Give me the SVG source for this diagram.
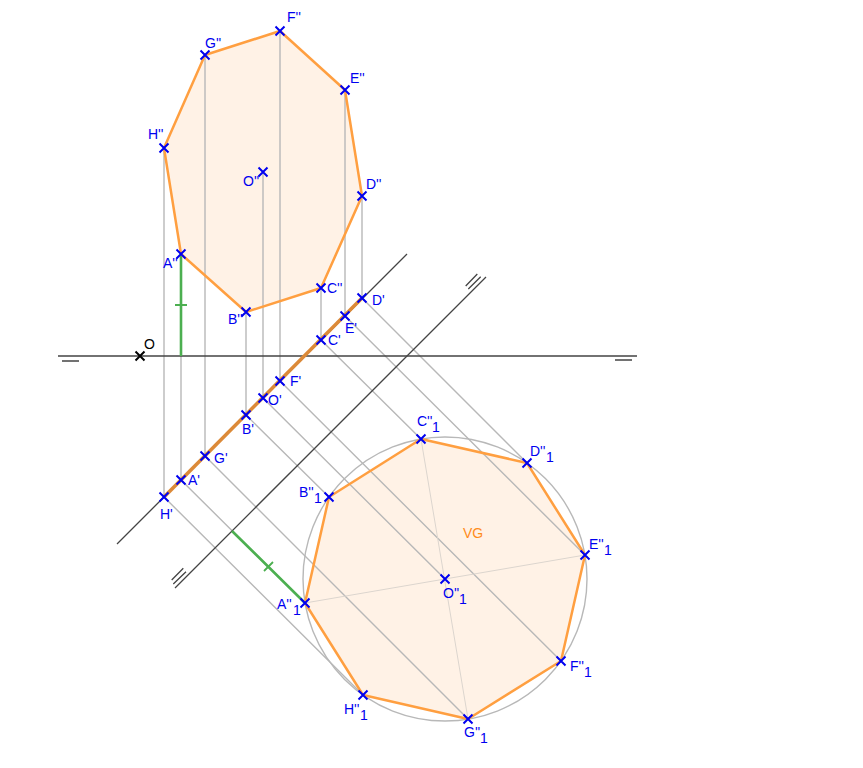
<svg xmlns="http://www.w3.org/2000/svg" width="863" height="768" viewBox="0 0 863 768">
<style>
.fill{fill:#fff2e6;stroke:none}
.edge{fill:none;stroke:#ff9f40;stroke-width:2.5;stroke-linejoin:round}
.ref{stroke:#b8b8b8;stroke-width:1.4;fill:none}
.faint{stroke:#dcd5ce;stroke-width:1;fill:none}
.axis{stroke:#444;stroke-width:1.3;fill:none}
.green{stroke:#4caf50;stroke-width:2.6;fill:none}
.greentick{stroke:#4caf50;stroke-width:1.8;fill:none}
.thick{stroke:#dc8a38;stroke-width:3.6;fill:none}
.x{stroke:#0000f0;stroke-width:2;fill:none}
.xk{stroke:#000;stroke-width:2;fill:none}
text{font-family:"Liberation Sans",Arial,sans-serif;font-size:14px;fill:#0000f0}
.k{fill:#000}
.vg{fill:#ff8c1a}
</style>
<defs><path id="m" d="M-4.500-4.500L4.500 4.500M-4.500 4.500L4.500-4.500" class="x"/></defs>
<g id="faces">
<polygon class="fill" points="181,254 246,312 321,288 362,196 345,90 280,31 205,55 164,148"/>
<polygon class="fill" points="305,603 363,695 468,719 561,661 585,555 527,463 421,439 329,497"/>
</g>
<g id="connectors">
<g class="ref">
<path d="M164,148V497M181,254V480M205,55V456M246,312V415M263,172V398M280,31V381M321,288V340M345,90V316M362,196V298"/>
<path d="M164,497L363,695M181,480L305,603M205,456L468,719M246,415L329,497M263,398L445,579M280,381L561,661M321,340L421,439M345,316L585,555M362,298L527,463"/>
<circle cx="445" cy="579" r="142"/>
</g>
<g class="faint"><path d="M305,603L585,555M421,439L468,719"/></g>
<g class="axis">
<path d="M58,356H637M62,361H79M615,360H632"/>
<path d="M117,544L407,254"/>
<path d="M175,588L486,277M171.700,580L183.300,568.300M173.300,584L186,571.700M465.700,286L477.300,274M468.300,289L480.700,276.700"/>
</g>
<path class="thick" d="M164,497L362,298"/>
<path class="green" d="M181,254V356M232,531L305,603"/>
<path class="greentick" d="M175,305H187M264,571L273,562"/>
<polygon class="edge" points="181,254 246,312 321,288 362,196 345,90 280,31 205,55 164,148"/>
<polygon class="edge" points="305,603 363,695 468,719 561,661 585,555 527,463 421,439 329,497"/>
</g>
<g id="O"><path class="xk" d="M135.500 351.500L144.500 360.500M135.500 360.500L144.500 351.500"/><text class="k" x="144" y="349">O</text></g>
<g id="Ad"><use href="#m" x="181" y="254"/><text x="163" y="268">A''</text></g>
<g id="Bd"><use href="#m" x="246" y="312"/><text x="228" y="324">B''</text></g>
<g id="Cd"><use href="#m" x="321" y="288"/><text x="327" y="293">C''</text></g>
<g id="Dd"><use href="#m" x="362" y="196"/><text x="366" y="189">D''</text></g>
<g id="Ed"><use href="#m" x="345" y="90"/><text x="350" y="83">E''</text></g>
<g id="Fd"><use href="#m" x="280" y="31"/><text x="287" y="22">F''</text></g>
<g id="Gd"><use href="#m" x="205" y="55"/><text x="205" y="48">G''</text></g>
<g id="Hd"><use href="#m" x="164" y="148"/><text x="148" y="139">H''</text></g>
<g id="Od"><use href="#m" x="263" y="172"/><text x="243" y="186">O''</text></g>
<g id="Ap"><use href="#m" x="181" y="480"/><text x="188" y="485">A'</text></g>
<g id="Bp"><use href="#m" x="246" y="415"/><text x="242" y="434">B'</text></g>
<g id="Cp"><use href="#m" x="321" y="340"/><text x="328" y="345">C'</text></g>
<g id="Dp"><use href="#m" x="362" y="298"/><text x="372" y="305">D'</text></g>
<g id="Ep"><use href="#m" x="345" y="316"/><text x="345" y="333">E'</text></g>
<g id="Fp"><use href="#m" x="280" y="381"/><text x="290" y="386">F'</text></g>
<g id="Gp"><use href="#m" x="205" y="456"/><text x="214" y="463">G'</text></g>
<g id="Hp"><use href="#m" x="164" y="497"/><text x="160" y="519">H'</text></g>
<g id="Op"><use href="#m" x="263" y="398"/><text x="268" y="405">O'</text></g>
<g id="A1"><use href="#m" x="305" y="603"/><text x="277" y="609">A''</text><text x="293" y="615">1</text></g>
<g id="B1"><use href="#m" x="329" y="497"/><text x="299" y="497">B''</text><text x="314" y="503">1</text></g>
<g id="C1"><use href="#m" x="421" y="439"/><text x="417" y="426">C''</text><text x="432" y="432">1</text></g>
<g id="D1"><use href="#m" x="527" y="463"/><text x="530" y="456">D''</text><text x="546" y="462">1</text></g>
<g id="E1"><use href="#m" x="585" y="555"/><text x="589" y="549">E''</text><text x="604" y="555">1</text></g>
<g id="F1"><use href="#m" x="561" y="661"/><text x="570" y="671">F''</text><text x="584" y="677">1</text></g>
<g id="G1"><use href="#m" x="468" y="719"/><text x="464" y="737">G''</text><text x="480" y="743">1</text></g>
<g id="H1"><use href="#m" x="363" y="695"/><text x="344" y="714">H''</text><text x="360" y="720">1</text></g>
<g id="O1"><use href="#m" x="445" y="579"/><text x="443" y="598">O''</text><text x="459" y="604">1</text></g>
<g id="VG"><text class="vg" x="463" y="538">VG</text></g>
</svg>
